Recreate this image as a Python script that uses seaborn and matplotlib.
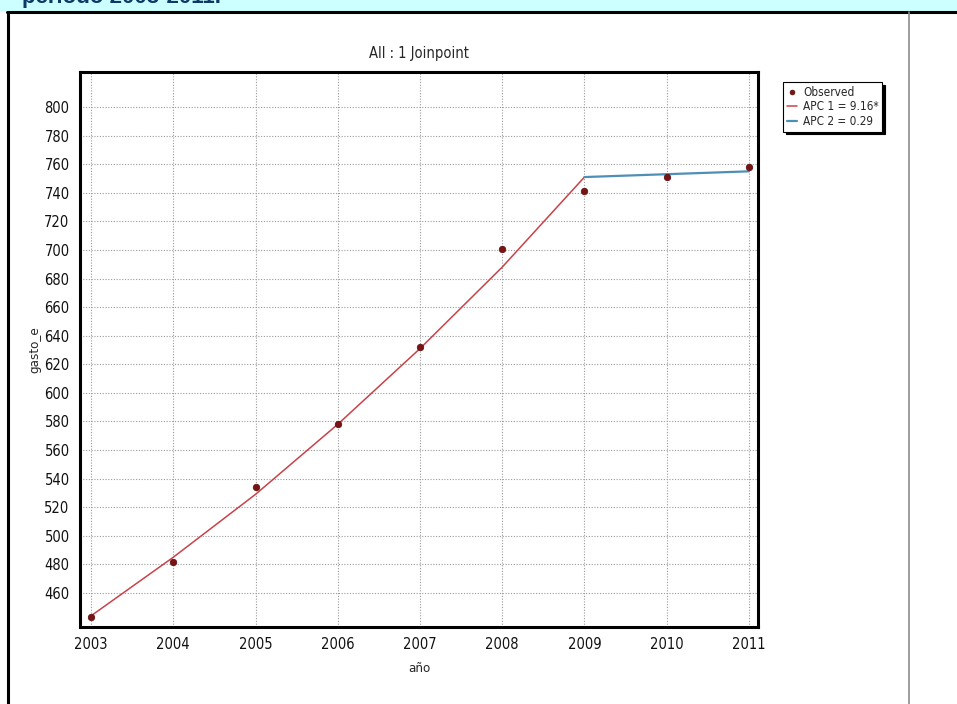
import matplotlib
matplotlib.use("Agg")
import matplotlib.pyplot as plt
from matplotlib.lines import Line2D
from matplotlib.patches import Rectangle
import seaborn as sns
import pandas as pd

# observed values
years = [2003, 2004, 2005, 2006, 2007, 2008, 2009, 2010, 2011]
observed = [443, 482, 534, 578, 632, 701, 741, 751, 758]

# joinpoint fit segments
seg1_years = [2003, 2004, 2005, 2006, 2007, 2008, 2009]
seg1_fit = [444, 485, 529, 578, 631, 688, 751]
seg2_years = [2009, 2010, 2011]
seg2_fit = [751, 753, 755]

yticks = list(range(460, 801, 20))

sns.set_style("white")
plt.rcParams['font.family'] = ['DejaVu Sans']
plt.rcParams['font.stretch'] = 'condensed'

obs_df = pd.DataFrame({"year": years, "value": observed})
s1 = pd.DataFrame({"year": seg1_years, "value": seg1_fit})
s2 = pd.DataFrame({"year": seg2_years, "value": seg2_fit})

fig = plt.figure(figsize=(9.57, 7.04), dpi=100)
ax = fig.add_axes([80/957, 1 - 627/704, 678/957, 555/704])

# page decorations around the chart
fig.add_artist(Rectangle((0, 1 - 11/704), 1, 11/704, transform=fig.transFigure,
                         facecolor="#ccffff", edgecolor="none"))
fig.text(22/957, 1 + 3/704, "periodo 2003-2011.", color="#0b3a66", fontsize=16,
         fontweight="bold", family=["Liberation Sans", "DejaVu Sans"],
         fontstretch="normal", va="center")
fig.add_artist(Line2D([7/957, 1], [1 - 12/704, 1 - 12/704], transform=fig.transFigure,
                      color="black", lw=2.2))
fig.add_artist(Line2D([8/957, 8/957], [0, 1 - 12/704], transform=fig.transFigure,
                      color="black", lw=2.2))
fig.add_artist(Line2D([909/957, 909/957], [0, 1 - 12/704], transform=fig.transFigure,
                      color="#8c8c8c", lw=1.2))

sns.lineplot(data=s1, x="year", y="value", ax=ax, color="#c8424a", lw=1.1,
             label="APC 1 = 9.16*")
sns.lineplot(data=s2, x="year", y="value", ax=ax, color="#4f8fb5", lw=1.6,
             label="APC 2 = 0.29")
sns.scatterplot(data=obs_df, x="year", y="value", ax=ax, color="#7a1414", s=22,
                edgecolor="#5a0a0a", linewidth=0.5, label="Observed", zorder=5)

ax.set_xlim(2002.866, 2011.11)
ax.set_ylim(436.2, 824.5)
ax.set_xticks(years)
ax.set_yticks(yticks)
ax.tick_params(labelsize=10.5, length=4, width=0.8, color="#888888", direction="out",
               labelcolor="#111111")
ax.grid(True, color="#9a9a9a", linestyle=(0, (1, 1.5)), lw=0.8)
for sp in ax.spines.values():
    sp.set_linewidth(2.2)
    sp.set_color("black")

ax.set_title("All : 1 Joinpoint", fontsize=10.5, pad=10)
ax.set_xlabel("año", fontsize=9.5, labelpad=7)
ax.set_ylabel("gasto_e", fontsize=9.5, labelpad=2)

handles, labels = ax.get_legend_handles_labels()
order = [labels.index("Observed"), labels.index("APC 1 = 9.16*"), labels.index("APC 2 = 0.29")]
leg = ax.legend([handles[i] for i in order], [labels[i] for i in order],
                loc="upper left", bbox_to_anchor=(783/957, 1 - 82/704),
                bbox_transform=fig.transFigure, fontsize=8.5, frameon=True,
                fancybox=False, shadow={"color": "black", "alpha": 1},
                handlelength=0.9, handletextpad=0.5, borderpad=0.3,
                labelspacing=0.15, borderaxespad=0)
leg.get_frame().set_edgecolor("black")
leg.get_frame().set_linewidth(0.8)
for h in leg.legend_handles:
    if hasattr(h, "set_sizes"):
        h.set_sizes([12])

fig.savefig("out.png", dpi=100)
